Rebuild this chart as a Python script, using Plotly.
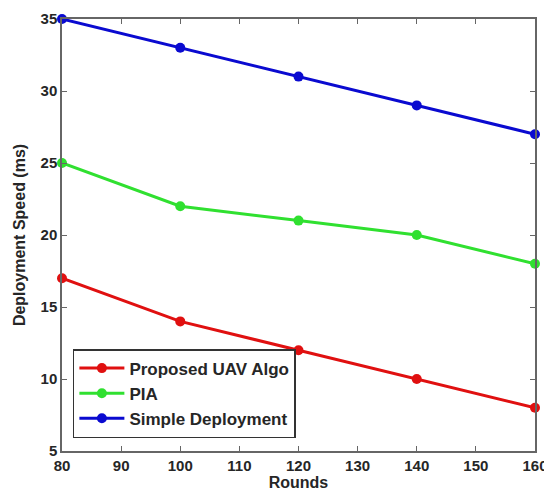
import plotly.graph_objects as go

rounds = [80, 100, 120, 140, 160]
proposed = [17, 14, 12, 10, 8]
pia = [25, 22, 21, 20, 18]
simple = [35, 33, 31, 29, 27]
x_ticks = [80, 90, 100, 110, 120, 130, 140, 150, 160]
y_ticks = [5, 10, 15, 20, 25, 30, 35]

series = [
    ("Proposed UAV Algo", proposed, "#e01010"),
    ("PIA", pia, "#30e030"),
    ("Simple Deployment", simple, "#0a0ad0"),
]

FONT = "Liberation Sans, Arial, sans-serif"

fig = go.Figure()
for name, vals, col in series:
    fig.add_trace(go.Scatter(
        x=rounds, y=vals, name=name, mode="lines+markers",
        line=dict(color=col, width=3),
        marker=dict(color=col, size=10),
        cliponaxis=False,
    ))

axis_common = dict(
    showline=True, linecolor="#666666", linewidth=1.5, mirror="ticks",
    ticks="inside", ticklen=5, tickcolor="#666666", showgrid=False, zeroline=False,
    ticklabeloverflow="allow", automargin=False,
    tickfont=dict(family=FONT, size=15, color="#262626", weight="bold"),
)
fig.update_layout(
    width=544, height=491,
    margin=dict(l=62, r=9, t=19, b=40),
    paper_bgcolor="white", plot_bgcolor="white",
    font=dict(family=FONT, color="#262626"),
    xaxis=dict(range=[80, 160], tickvals=x_ticks,
               title=dict(text="Rounds", font=dict(size=16, weight="bold"), standoff=5), **axis_common),
    yaxis=dict(range=[5, 35], tickvals=y_ticks,
               title=dict(text="Deployment Speed (ms)", font=dict(size=16, weight="bold"), standoff=11), **axis_common),
    legend=dict(x=0.023, y=0.030, xanchor="left", yanchor="bottom",
                bordercolor="#333333", borderwidth=1.5, bgcolor="white",
                font=dict(size=17, color="#262626", weight="bold"), tracegroupgap=0,
                itemwidth=45),
    showlegend=True,
)
fig.write_html("out.html", config={"displayModeBar": False})

with open("out.html", "r", encoding="utf-8") as f:
    html = f.read()
html = html.replace("<head>", "<head><style>html,body{margin:0;padding:0;overflow:hidden;}</style>", 1)
with open("out.html", "w", encoding="utf-8") as f:
    f.write(html)
